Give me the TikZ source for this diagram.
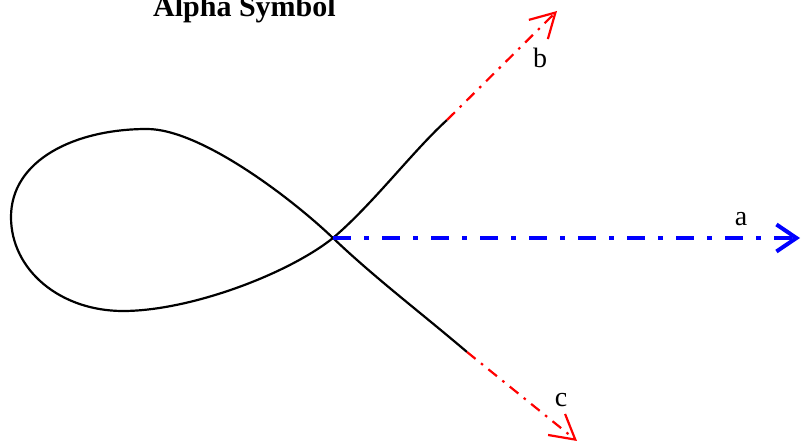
\documentclass[tikz,border=0pt]{standalone}
\usepackage{fontspec}
\setmainfont{Liberation Serif}
\usetikzlibrary{arrows.meta}
\begin{document}
\begin{tikzpicture}[x=1pt,y=-1pt,
  curve/.style={line width=2.2pt,black,line join=round},
  redarrow/.style={red,line width=2.2pt,dash pattern=on 11pt off 7pt on 2.5pt off 7pt,
    -{Straight Barb[length=24pt,width=27pt,line width=2.2pt]}},
  bluearrow/.style={blue,line width=4.5pt,dash pattern=on 18pt off 13pt on 5pt off 13pt,
    -{Straight Barb[length=20pt,width=27pt,line width=4pt]}},
  lab/.style={inner sep=0pt,font=\fontsize{28}{30}\selectfont},
  ttl/.style={inner sep=0pt,anchor=base west,font=\fontsize{30}{32}\selectfont\bfseries}]
\useasboundingbox (0,0) rectangle (801,443);
\node[ttl] (title) at (153,17) {Alpha Symbol};
\coordinate (bstart) at (447,120);
\coordinate (btip) at (557,11);
\coordinate (cstart) at (467,352);
\coordinate (ctip) at (577,441);
\coordinate (o) at (333,238);
\coordinate (atip) at (800,238);
\draw[curve] (bstart) .. controls (412,152) and (373,204) .. (o)
  .. controls (288,274) and (190,311) .. (123,311)
  .. controls (60,311) and (11,270) .. (11,217)
  .. controls (11,160) and (75,129) .. (147,129)
  .. controls (200,129) and (290,197) .. (o)
  .. controls (375,278) and (420,312) .. (cstart);
\draw[redarrow] (bstart) -- (btip);
\draw[redarrow] (cstart) -- (ctip);
\draw[bluearrow] (o) -- (atip);
\node[lab] (b) at (540,58) {b};
\node[lab] (c) at (561,400) {c};
\node[lab] (a) at (741,219) {a};
\end{tikzpicture}
\end{document}
